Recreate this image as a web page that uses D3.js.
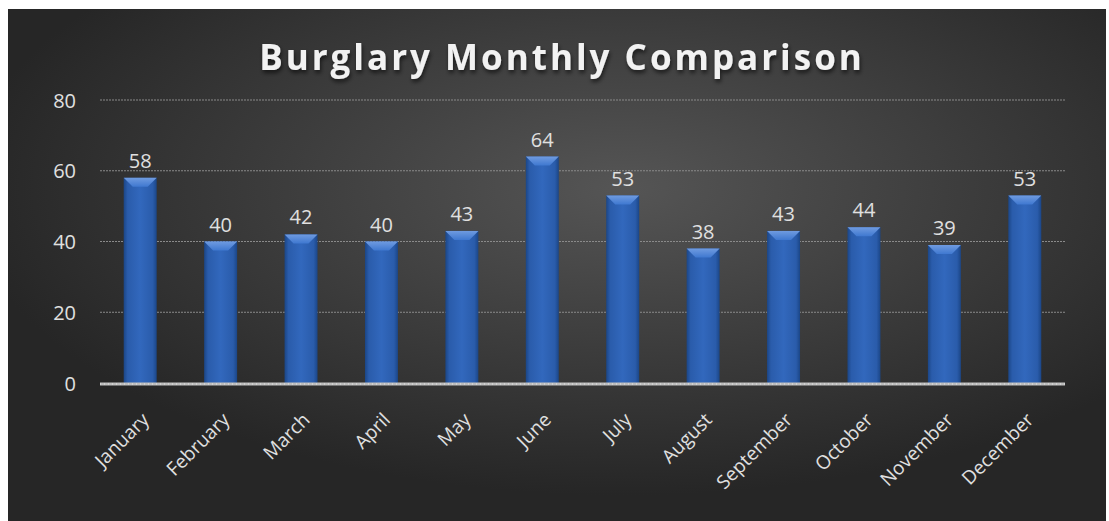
<!DOCTYPE html>
<html><head><meta charset="utf-8">
<script src="https://cdn.jsdelivr.net/npm/d3@7"></script>
<style>
html,body{margin:0;padding:0;background:#fff;}
svg{display:block;}
</style></head>
<body>
<svg id="chart" width="1109" height="521"></svg>
<script>
const categories = ["January","February","March","April","May","June","July","August","September","October","November","December"];
const values = [58,40,42,40,43,64,53,38,43,44,39,53];
const yTicks = [0,20,40,60,80];
const title = "Burglary Monthly Comparison";

const svg = d3.select("#chart");
const frame = {x:8, y:9, w:1098, h:512};
const margin = {left:100, right:1065, top:100, bottom:383};

const defs = svg.append("defs");
const bg = defs.append("radialGradient").attr("id","bg")
  .attr("cx","0.56").attr("cy","0.35").attr("r","0.6");
bg.append("stop").attr("offset","0").attr("stop-color","#555555");
bg.append("stop").attr("offset","1").attr("stop-color","#262626");

const barG = defs.append("linearGradient").attr("id","barg").attr("x1","0").attr("x2","1").attr("y1","0").attr("y2","0");
barG.append("stop").attr("offset","0").attr("stop-color","#1b4687");
barG.append("stop").attr("offset","0.12").attr("stop-color","#2a5cab");
barG.append("stop").attr("offset","0.5").attr("stop-color","#3268bd");
barG.append("stop").attr("offset","0.88").attr("stop-color","#2a5cab");
barG.append("stop").attr("offset","1").attr("stop-color","#1b4687");

const bevG = defs.append("linearGradient").attr("id","bevg").attr("x1","0").attr("x2","0").attr("y1","0").attr("y2","1");
bevG.append("stop").attr("offset","0").attr("stop-color","#6f9be0");
bevG.append("stop").attr("offset","1").attr("stop-color","#3f78d0");

const shadow = defs.append("filter").attr("id","tshadow").attr("x","-10%").attr("y","-20%").attr("width","120%").attr("height","160%");
shadow.append("feDropShadow").attr("dx","1").attr("dy","3").attr("stdDeviation","2").attr("flood-color","#000").attr("flood-opacity","0.6");

svg.append("rect").attr("x",frame.x).attr("y",frame.y).attr("width",frame.w).attr("height",frame.h).attr("fill","url(#bg)");

const x = d3.scaleBand().domain(categories).range([margin.left, margin.right]).paddingInner(0.59).paddingOuter(0.295);
const y = d3.scaleLinear().domain([0,80]).range([margin.bottom, margin.top]);

// gridlines
svg.append("g").selectAll("line").data(yTicks.filter(d=>d>0)).join("line")
  .attr("x1",margin.left).attr("x2",margin.right)
  .attr("y1",d=>y(d)).attr("y2",d=>y(d))
  .attr("stroke","#8a8a8a").attr("stroke-width",1).attr("stroke-dasharray","2,1");

// y axis labels
const yAxis = d3.axisLeft(y).tickValues(yTicks).tickSize(0).tickPadding(0);
const ya = svg.append("g").attr("transform",`translate(${margin.left-24},0)`).call(yAxis);
ya.select(".domain").remove();
ya.selectAll("text").attr("fill","#e0e0e0").attr("font-family","'Open Sans', sans-serif").attr("font-size","20px").attr("dy","0.35em");

// bars
const bars = svg.append("g").selectAll("g").data(values).join("g");
bars.append("rect")
  .attr("x",(d,i)=>x(categories[i])).attr("width",x.bandwidth())
  .attr("y",d=>y(d)).attr("height",d=>y(0)-y(d))
  .attr("fill","url(#barg)");
bars.append("path")
  .attr("d",(d,i)=>{
    const x0 = x(categories[i]), bw = x.bandwidth(), t = y(d), b = 9;
    return `M${x0},${t}L${x0+bw},${t}L${x0+bw-b},${t+b}L${x0+b},${t+b}Z`;
  })
  .attr("fill","url(#bevg)");

// axis line
svg.append("line").attr("x1",margin.left).attr("x2",margin.right)
  .attr("y1",y(0)+1).attr("y2",y(0)+1)
  .attr("stroke","#bdbdbd").attr("stroke-width",3);
svg.append("line").attr("x1",margin.left).attr("x2",margin.right)
  .attr("y1",y(0)+1).attr("y2",y(0)+1)
  .attr("stroke","#e8e8e8").attr("stroke-width",1).attr("stroke-dasharray","1,3");

// data labels
svg.append("g").selectAll("text").data(values).join("text")
  .attr("x",(d,i)=>x(categories[i])+x.bandwidth()/2)
  .attr("y",d=>y(d)-10)
  .attr("text-anchor","middle")
  .attr("fill","#e0e0e0").attr("font-family","'Open Sans', sans-serif").attr("font-size","20px")
  .text(d=>d);

// x labels
svg.append("g").selectAll("text").data(categories).join("text")
  .attr("transform",d=>`translate(${x(d)+x.bandwidth()/2+10},${y(0)+38}) rotate(-45)`)
  .attr("text-anchor","end")
  .attr("fill","#e0e0e0").attr("font-family","'Open Sans', sans-serif").attr("font-size","19px")
  .text(d=>d);

// title
svg.append("text").attr("x",562).attr("y",70).attr("text-anchor","middle")
  .attr("fill","#f2f2f2").attr("font-family","'Open Sans', sans-serif").attr("font-weight","bold")
  .attr("font-size","35px").attr("letter-spacing","3px").attr("filter","url(#tshadow)")
  .text(title);
</script>
</body></html>
